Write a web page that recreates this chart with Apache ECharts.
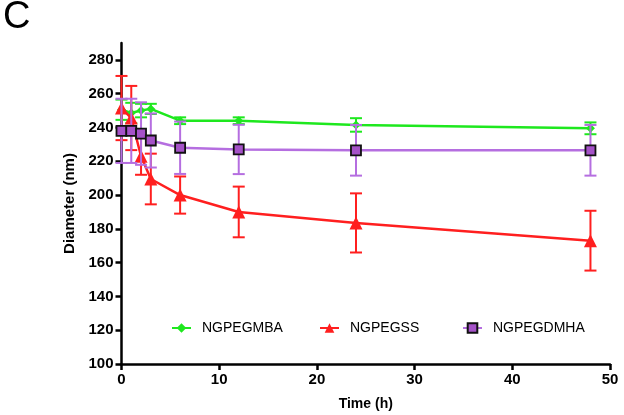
<!DOCTYPE html>
<html><head><meta charset="utf-8">
<script src="https://cdn.jsdelivr.net/npm/echarts@6/dist/echarts.min.js"></script>
<style>html,body{margin:0;padding:0;background:#fff}#c{width:624px;height:415px}</style>
</head><body><div id="c"></div>
<script>
const times = [0, 1, 2, 3, 6, 12, 24, 48];
const mbaMean = [250.5, 248.6, 250, 251, 244, 244, 241.5, 239.5];
const mbaErr  = [6, 6, 4, 3, 2, 2, 4, 3.5];
const ssMean  = [251.5, 245.6, 223, 209.5, 200, 190, 183.5, 173];
const ssErr   = [19, 19, 11, 15, 11, 15, 17.5, 17.7];
const dmhaMean = [238, 238, 236.4, 232.3, 228, 227, 226.5, 226.5];
const dmhaErr  = [19, 19, 18.5, 16, 15.5, 14.6, 15, 15];
const yTicks = [100, 120, 140, 160, 180, 200, 220, 240, 260, 280];
const xTicks = [0, 10, 20, 30, 40, 50];
const seriesNames = ['NGPEGMBA', 'NGPEGSS', 'NGPEGDMHA'];

const font = '"Liberation Sans", Arial, sans-serif';
function pts(m){ return times.map((t,i)=>[t,m[i]]); }
function errData(m,e){ return times.map((t,i)=>[t,m[i]-e[i],m[i]+e[i]]); }
function errSeries(name,m,e,color,z){
  return {
    type:'custom', name:name+'_err', z:z, silent:true,
    data: errData(m,e),
    renderItem:function(params,api){
      const x=api.value(0), lo=api.value(1), hi=api.value(2);
      const p1=api.coord([x,lo]), p2=api.coord([x,hi]);
      const w=6;
      const st={stroke:color,lineWidth:2};
      return {type:'group',children:[
        {type:'line',shape:{x1:p1[0],y1:p1[1],x2:p2[0],y2:p2[1]},style:st},
        {type:'line',shape:{x1:p1[0]-w,y1:p1[1],x2:p1[0]+w,y2:p1[1]},style:st},
        {type:'line',shape:{x1:p2[0]-w,y1:p2[1],x2:p2[0]+w,y2:p2[1]},style:st}
      ]};
    }
  };
}
function legendFor(name,left){
  return {data:[name], top:316, left:left, itemWidth:19, itemHeight:12,
    textStyle:{fontFamily:font,fontSize:14,color:'#000',padding:[0,0,0,6]}};
}
const green='#1ee81e', red='#ff1f1f', purple='#b56ee0';
const chart = echarts.init(document.getElementById('c'));
chart.setOption({
  animation:false,
  backgroundColor:'#fff',
  graphic:[{type:'text',left:3,top:-1,style:{text:'C',font:'38px "Liberation Sans", Arial, sans-serif',fill:'#000'}}],
  grid:{left:121.5,right:14,top:43,bottom:51,outerBoundsMode:'none',containLabel:false},
  legend:[legendFor(seriesNames[0],166),legendFor(seriesNames[1],314),legendFor(seriesNames[2],457)],
  xAxis:{
    type:'value', min:0, max:50, interval:10,
    name:'Time (h)', nameLocation:'middle', nameGap:33,
    nameTextStyle:{fontFamily:font,fontWeight:'bold',fontSize:14,color:'#000'},
    axisLine:{onZero:false,lineStyle:{color:'#000',width:2.5}},
    axisTick:{show:true,length:6,lineStyle:{color:'#000',width:2.5},customValues:xTicks},
    axisLabel:{fontFamily:font,fontWeight:'bold',fontSize:15,color:'#000',margin:8,customValues:xTicks},
    splitLine:{show:false}
  },
  yAxis:{
    type:'value', min:100, max:290, interval:20,
    name:'Diameter (nm)', nameLocation:'middle', nameGap:40,
    nameTextStyle:{fontFamily:font,fontWeight:'bold',fontSize:15,color:'#000'},
    axisLine:{show:true,onZero:false,lineStyle:{color:'#000',width:2.5}},
    axisTick:{show:true,length:6,lineStyle:{color:'#000',width:2.5},customValues:yTicks},
    axisLabel:{fontFamily:font,fontWeight:'bold',fontSize:15,color:'#000',margin:8,customValues:yTicks},
    splitLine:{show:false}
  },
  series:[
    errSeries(seriesNames[0],mbaMean,mbaErr,green,2),
    {name:seriesNames[0],type:'line',data:pts(mbaMean),z:3,symbol:'diamond',symbolSize:9,
      lineStyle:{color:green,width:2.5},itemStyle:{color:green}},
    errSeries(seriesNames[1],ssMean,ssErr,red,4),
    {name:seriesNames[1],type:'line',data:pts(ssMean),z:5,symbol:'triangle',symbolSize:13,
      lineStyle:{color:red,width:2.5},itemStyle:{color:red}},
    errSeries(seriesNames[2],dmhaMean,dmhaErr,purple,6),
    {name:seriesNames[2],type:'line',data:pts(dmhaMean),z:7,symbol:'rect',symbolSize:10,
      lineStyle:{color:purple,width:2.5},itemStyle:{color:'#a552c8',borderColor:'#111',borderWidth:1.8}}
  ]
});
</script></body></html>
